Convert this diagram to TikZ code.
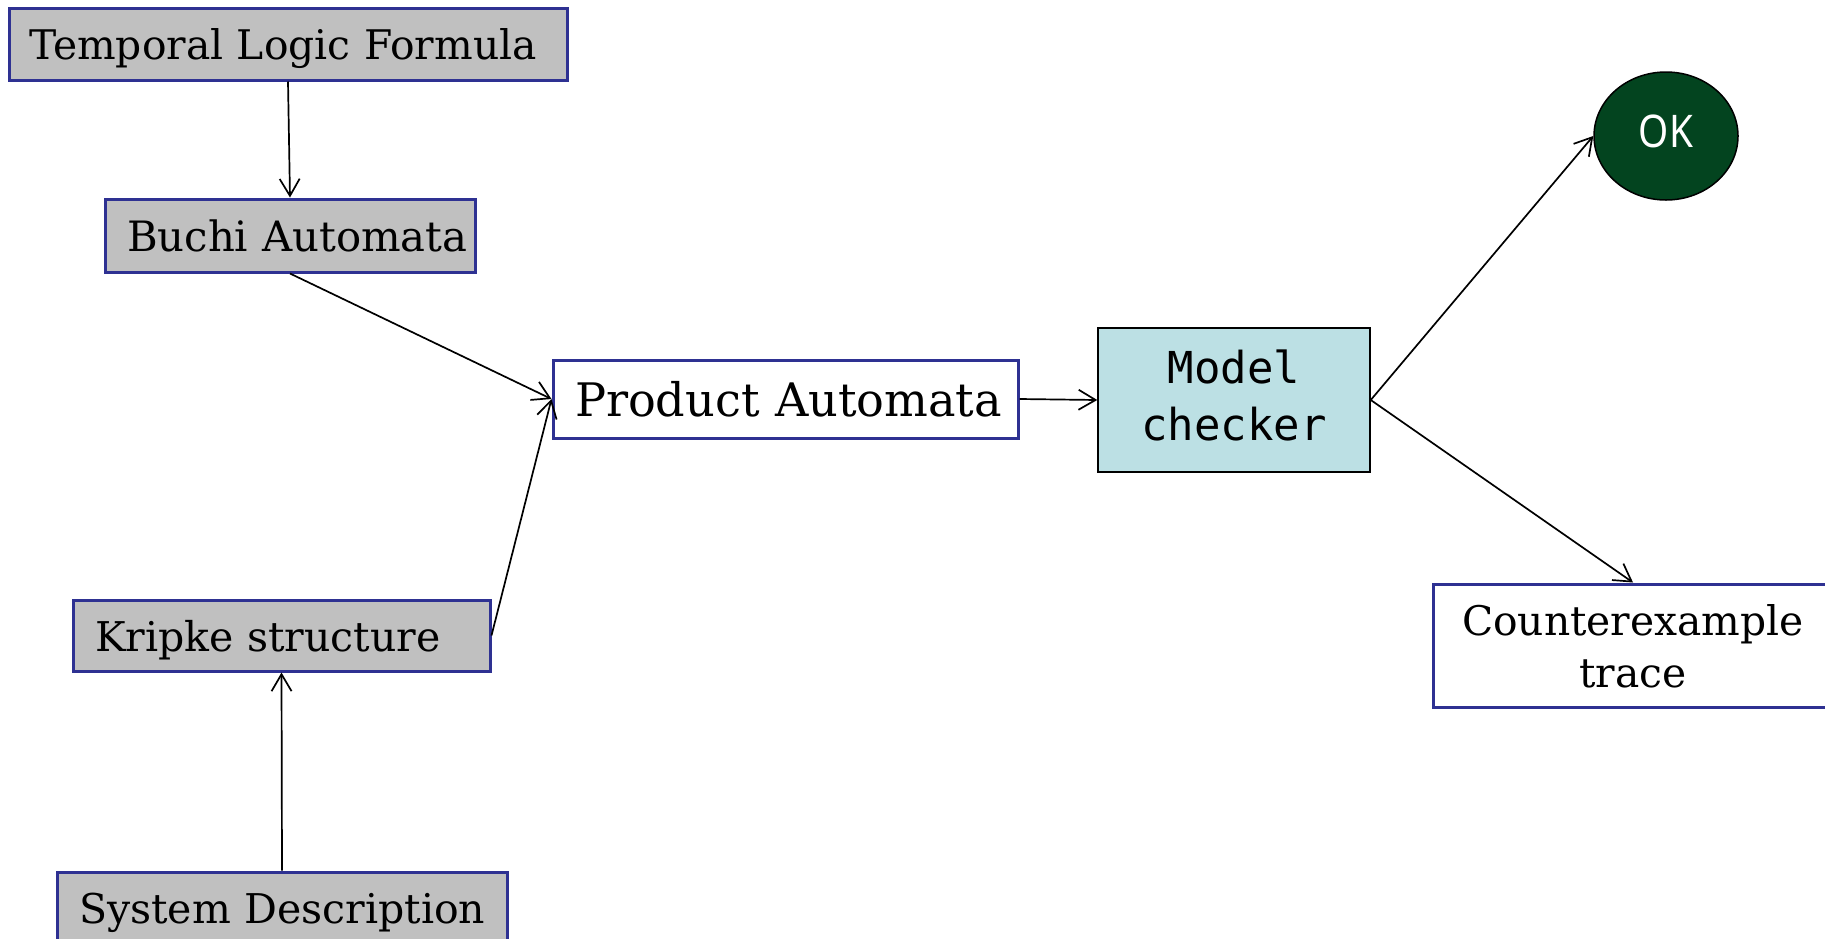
\documentclass[tikz,border=0pt]{standalone}
\usepackage{fontspec}
\setmainfont{DejaVu Serif}
\setmonofont{DejaVu Sans Mono}
\newfontfamily\oksans[FakeStretch=0.86]{Noto Sans}
\usetikzlibrary{arrows.meta,shapes.geometric}
\definecolor{boxblue}{RGB}{46,49,146}
\definecolor{boxgray}{RGB}{192,192,192}
\definecolor{mcfill}{RGB}{188,224,228}
\definecolor{okgreen}{RGB}{3,68,31}
\newcommand{\fsz}[2]{\fontsize{#1}{#2}\selectfont}
\begin{document}
\begin{tikzpicture}[x=0.5pt,y=-0.5pt,
  inbox/.style={rectangle, draw=boxblue, line width=1.5pt, fill=boxgray,
    align=left, inner ysep=0pt, inner xsep=11pt, text depth=0pt,
    font=\fsz{20.5}{24}},
  outbox/.style={rectangle, draw=boxblue, line width=1.5pt, fill=white,
    align=center, inner sep=0pt, text depth=0pt},
  flow/.style={-{Straight Barb[length=8.5pt,width=10pt]}, line width=0.85pt}]
\useasboundingbox (0,0) rectangle (1825,938);
\clip (0,0) rectangle (1825,938);

% inputs
\node[inbox, minimum width=279pt, minimum height=36pt, inner xsep=10pt,
  text width=259pt, font=\fsz{20.4}{24}] (tlf) at (288,44)
  {\mbox{Temporal Logic Formula}};
\node[inbox, minimum width=185pt, minimum height=36.5pt,
  text width=163pt, font=\fsz{20.9}{24}] (buchi) at (290,235.5)
  {\mbox{Buchi Automata}};
\node[inbox, minimum width=208.5pt, minimum height=35.5pt,
  text width=186.5pt] (kripke) at (281.5,635.5)
  {\mbox{Kripke structure}};
\node[inbox, minimum width=225pt, minimum height=36pt,
  text width=203pt] (sys) at (282,908)
  {\mbox{System Description}};

% product and checker
\node[inbox, fill=white, minimum width=232.5pt, minimum height=39pt,
  text width=210.5pt, font=\fsz{23.1}{26}] (prod) at (785.5,399)
  {\mbox{Product Automata}};
\node[rectangle, draw=black, line width=0.75pt, fill=mcfill, align=center,
  minimum width=136pt, minimum height=72pt, inner sep=0pt, text depth=5pt,
  font=\ttfamily\fsz{22}{28.5}] (mc) at (1234,400) {Model\\checker};

% results
\node[ellipse, draw=black, line width=0.75pt, fill=okgreen, text=white,
  minimum width=72pt, minimum height=64pt, inner sep=0pt, text depth=5pt,
  font=\oksans\fsz{22.5}{26}] (ok) at (1666,136) {OK};
\node[outbox, minimum width=200pt, minimum height=61.5pt,
  font=\fsz{20.4}{26}] (cex) at (1633,645.5) {Counterexample\\trace};

% connectors
\draw[flow] (tlf.south) -- (buchi.north);
\draw[flow] (buchi.south) -- (prod.west);
\draw[flow] (kripke.east) -- (prod.west);
\draw[flow] (sys.north) -- (kripke.south);
\draw[flow] (prod.east) -- (mc.west);
\draw[flow] (mc.east) -- (ok.west);
\draw[flow] (mc.east) -- (cex.north);
\end{tikzpicture}
\end{document}
